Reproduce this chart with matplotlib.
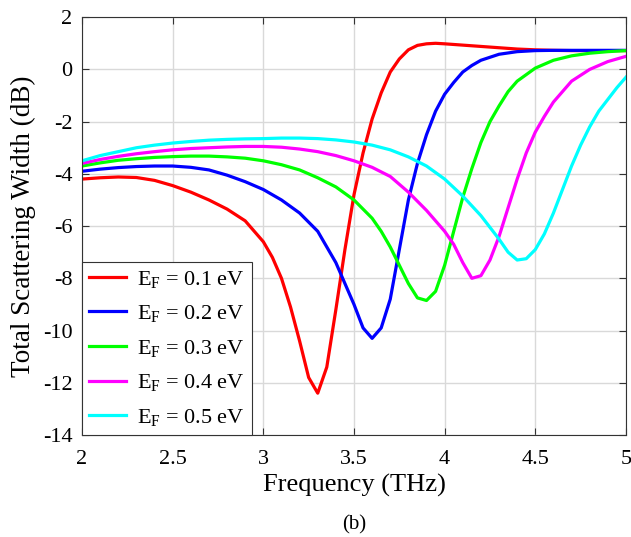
import matplotlib
matplotlib.use("Agg")
import matplotlib.pyplot as plt

plt.rcParams['font.family'] = ['Liberation Serif', 'DejaVu Serif']
plt.rcParams['mathtext.fontset'] = 'custom'
plt.rcParams['mathtext.rm'] = 'Liberation Serif'
plt.rcParams['mathtext.it'] = 'Liberation Serif:italic'
plt.rcParams['axes.unicode_minus'] = False

# data (frequency in THz, scattering width in dB)
f_01 = [2.0, 2.1, 2.2, 2.3, 2.4, 2.5, 2.6, 2.7, 2.8, 2.9, 3.0, 3.05, 3.1, 3.15, 3.2, 3.25, 3.3,
        3.35, 3.4, 3.45, 3.5, 3.55, 3.6, 3.65, 3.7, 3.75, 3.8, 3.85, 3.9, 3.95, 4.0, 4.1, 4.2,
        4.3, 4.4, 4.5, 4.6, 4.7, 4.8, 4.9, 5.0]
w_01 = [-4.2, -4.15, -4.12, -4.14, -4.25, -4.45, -4.7, -5.0, -5.35, -5.8, -6.6, -7.2, -8.0, -9.1,
        -10.4, -11.8, -12.4, -11.4, -9.2, -6.9, -4.8, -3.2, -1.9, -0.9, -0.1, 0.4, 0.75, 0.92,
        0.98, 1.0, 0.98, 0.93, 0.88, 0.83, 0.78, 0.75, 0.73, 0.72, 0.72, 0.72, 0.72]

f_02 = [2.0, 2.1, 2.2, 2.3, 2.4, 2.5, 2.6, 2.7, 2.8, 2.9, 3.0, 3.1, 3.2, 3.3, 3.4, 3.45, 3.5,
        3.55, 3.6, 3.65, 3.7, 3.75, 3.8, 3.85, 3.9, 3.95, 4.0, 4.05, 4.1, 4.15, 4.2, 4.3, 4.4,
        4.5, 4.6, 4.8, 5.0]
w_02 = [-3.9, -3.82, -3.76, -3.72, -3.7, -3.7, -3.75, -3.85, -4.05, -4.3, -4.6, -5.0, -5.5,
        -6.2, -7.4, -8.2, -9.0, -9.9, -10.3, -9.9, -8.8, -6.9, -5.0, -3.6, -2.5, -1.6, -0.95,
        -0.5, -0.1, 0.15, 0.35, 0.58, 0.68, 0.72, 0.73, 0.73, 0.73]

f_03 = [2.0, 2.1, 2.2, 2.3, 2.4, 2.5, 2.6, 2.7, 2.8, 2.9, 3.0, 3.1, 3.2, 3.3, 3.4, 3.5, 3.6,
        3.65, 3.7, 3.75, 3.8, 3.85, 3.9, 3.95, 4.0, 4.05, 4.1, 4.15, 4.2, 4.25, 4.3, 4.35, 4.4,
        4.5, 4.6, 4.7, 4.8, 4.9, 5.0]
w_03 = [-3.7, -3.58, -3.48, -3.42, -3.37, -3.34, -3.32, -3.32, -3.35, -3.4, -3.5, -3.65, -3.85,
        -4.15, -4.5, -5.0, -5.7, -6.2, -6.8, -7.5, -8.2, -8.75, -8.85, -8.5, -7.5, -6.2, -4.9,
        -3.8, -2.8, -2.0, -1.4, -0.85, -0.45, 0.05, 0.35, 0.52, 0.62, 0.68, 0.72]

f_04 = [2.0, 2.1, 2.2, 2.3, 2.4, 2.5, 2.6, 2.7, 2.8, 2.9, 3.0, 3.1, 3.2, 3.3, 3.4, 3.5, 3.6,
        3.7, 3.8, 3.9, 4.0, 4.05, 4.1, 4.15, 4.2, 4.25, 4.3, 4.35, 4.4, 4.45, 4.5, 4.55, 4.6,
        4.7, 4.8, 4.9, 5.0]
w_04 = [-3.6, -3.45, -3.33, -3.23, -3.15, -3.08, -3.03, -3.0, -2.97, -2.95, -2.95, -2.98,
        -3.05, -3.15, -3.3, -3.5, -3.75, -4.1, -4.7, -5.4, -6.2, -6.7, -7.4, -8.0, -7.9, -7.3,
        -6.4, -5.3, -4.2, -3.2, -2.4, -1.8, -1.25, -0.45, 0.0, 0.3, 0.5]

f_05 = [2.0, 2.1, 2.2, 2.3, 2.4, 2.5, 2.6, 2.7, 2.8, 2.9, 3.0, 3.1, 3.2, 3.3, 3.4, 3.5, 3.6,
        3.7, 3.8, 3.9, 4.0, 4.1, 4.2, 4.3, 4.35, 4.4, 4.45, 4.5, 4.55, 4.6, 4.65, 4.7, 4.75,
        4.8, 4.85, 4.9, 4.95, 5.0]
w_05 = [-3.5, -3.3, -3.15, -3.0, -2.9, -2.82, -2.76, -2.71, -2.68, -2.66, -2.65, -2.63, -2.63,
        -2.65, -2.7, -2.78, -2.9, -3.08, -3.35, -3.7, -4.2, -4.85, -5.6, -6.5, -7.0, -7.3,
        -7.25, -6.9, -6.3, -5.5, -4.6, -3.7, -2.9, -2.2, -1.6, -1.15, -0.7, -0.3]

labels = ['E$_\\mathrm{F}$ = 0.1 eV', 'E$_\\mathrm{F}$ = 0.2 eV', 'E$_\\mathrm{F}$ = 0.3 eV',
          'E$_\\mathrm{F}$ = 0.4 eV', 'E$_\\mathrm{F}$ = 0.5 eV']
colors = ['#ff0000', '#0000ff', '#00ff00', '#ff00ff', '#00ffff']

fig = plt.figure(figsize=(6.31, 5.37), dpi=100)
ax = fig.add_axes([0.130, 0.190, 0.862, 0.778])

series = [(f_01, w_01), (f_02, w_02), (f_03, w_03), (f_04, w_04), (f_05, w_05)]
for (f, w), lab, c in zip(series, labels, colors):
    ax.plot(f, w, color=c, lw=2.3, label=lab)

ax.set_xlim(2, 5)
ax.set_ylim(-14, 2)
ax.set_xticks([2, 2.5, 3, 3.5, 4, 4.5, 5])
ax.set_xticklabels(['2', '2.5', '3', '3.5', '4', '4.5', '5'])
ax.set_yticks(range(-14, 3, 2))
ax.grid(True, color='#d9d9d9', lw=1)
ax.tick_params(direction='in', top=True, right=True, labelsize=16, length=5, color='#333333')
ax.tick_params(axis='x', pad=11)
ax.tick_params(axis='y', pad=7)
for s in ax.spines.values():
    s.set_color('#333333')
    s.set_linewidth(0.8)

ax.set_xlabel('Frequency (THz)', fontsize=19, labelpad=3)
ax.set_ylabel('Total Scattering Width (dB)', fontsize=19.5, labelpad=5)

leg = ax.legend(loc='lower left', fontsize=16, frameon=True, fancybox=False,
                edgecolor='#333333', framealpha=1, borderaxespad=0, handlelength=1.67,
                labelspacing=0.61, borderpad=0.32, handletextpad=0.5)
leg.get_frame().set_linewidth(0.8)

fig.text(0.562, 0.022, '(b)', ha='center', va='center', fontsize=15)

fig.savefig('out.png', dpi=100)
